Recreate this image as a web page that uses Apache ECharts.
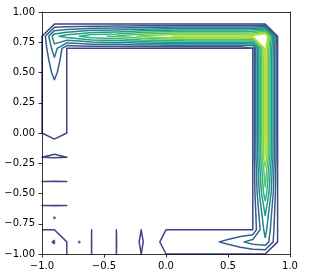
<!DOCTYPE html>
<html><head><meta charset="utf-8">
<script src="https://cdn.jsdelivr.net/npm/echarts/dist/echarts.min.js"></script>
<style>html,body{margin:0;padding:0;background:#fff}#c{width:310px;height:279px}</style>
</head><body><div id="c"></div>
<script>
// grid coordinates
const gridX = [-1.0,-0.9,-0.8,-0.7,-0.6,-0.5,-0.4,-0.3,-0.2,-0.1,0.0,0.1,0.2,0.3,0.4,0.5,0.6,0.7,0.8,0.9,1.0];
const gridY = [-1.0,-0.9,-0.8,-0.7,-0.6,-0.5,-0.4,-0.3,-0.2,-0.1,0.0,0.1,0.2,0.3,0.4,0.5,0.6,0.7,0.8,0.9,1.0];
// field values, rows listed from y = 1.0 (top) down to y = -1.0 (bottom)
const zRows = [
 [-1,-1,-1,-1,-1,-1,-1,-1,-1,-1,-1,-1,-1,-1,-1,-1,-1,-1,-1,-1,-1],
 [-1,0,0,0,0,0,0,0,0,0,0,0,0,0,0,0,0,0,0,-1,-1],
 [0,3.7,4.5,5.05,5.8,5.95,6.15,6.6,7.2,7.6,7.9,8.1,8.2,8.2,8.2,8.2,8.2,8.4,10,0,-1],
 [0,2.6,0,0,0,0,0,0,0,0,0,0,0,0,0,0,0,0,8.5,0,-1],
 [0,1.8,0,-1,-1,-1,-1,-1,-1,-1,-1,-1,-1,-1,-1,-1,-1,0,8.3,0,-1],
 [0,1.3,0,-1,-1,-1,-1,-1,-1,-1,-1,-1,-1,-1,-1,-1,-1,0,8.3,0,-1],
 [0,0.8,0,-1,-1,-1,-1,-1,-1,-1,-1,-1,-1,-1,-1,-1,-1,0,8.3,0,-1],
 [0,0.6,0,-1,-1,-1,-1,-1,-1,-1,-1,-1,-1,-1,-1,-1,-1,0,8.3,0,-1],
 [0,0.5,0,-1,-1,-1,-1,-1,-1,-1,-1,-1,-1,-1,-1,-1,-1,0,8.3,0,-1],
 [0,0.45,0,-1,-1,-1,-1,-1,-1,-1,-1,-1,-1,-1,-1,-1,-1,0,8.3,0,-1],
 [0,0.4,0,-1,-1,-1,-1,-1,-1,-1,-1,-1,-1,-1,-1,-1,-1,0,8.3,0,-1],
 [-1,-0.4,-1,-1,-1,-1,-1,-1,-1,-1,-1,-1,-1,-1,-1,-1,-1,0,8.15,0,-1],
 [0,0.133,0,-1,-1,-1,-1,-1,-1,-1,-1,-1,-1,-1,-1,-1,-1,0,8.05,0,-1],
 [-1,-2.5,-1,-1,-1,-1,-1,-1,-1,-1,-1,-1,-1,-1,-1,-1,-1,0,6.8,0,-1],
 [0,0.01,0,-1,-1,-1,-1,-1,-1,-1,-1,-1,-1,-1,-1,-1,-1,0,6.3,0,-1],
 [-1,-2,-1,-1,-1,-1,-1,-1,-1,-1,-1,-1,-1,-1,-1,-1,-1,0,5.7,0,-1],
 [0,0.01,0,-1,-1,-1,-1,-1,-1,-1,-1,-1,-1,-1,-1,-1,-1,0,4.6,0,-1],
 [-1,-2,-1,-1,-1,-1,-1,-1,-1,-1,-1,-1,-1,-1,-1,-1,-1,0,3.9,0,-1],
 [0,0,0,-1,0,-1,0,-1,0,-1,0,0,0,0,0,0,0,0,3.4,0,-1],
 [0.3,1.15,0,-2,0.01,-2,0.01,-0.5,0.1,-0.5,0.5,0.55,0.6,0.7,0.9,1.25,1.8,2.5,2.8,0,-1],
 [0.3,0.3,0,-1,0,-1,0,-1,0,-1,0,0,0,0,0,0,0,0,0,-1,-1]
];
const levels = [0,1,2,3,4,5,6,7,8];
const levelColors = ['#414487','#375a8c','#2d708e','#25858e','#1f9e89','#2eb37c','#52c569','#84d44b','#bddf26'];
// isolated tiny closed contours (too small for the grid)
const specks = [[-0.9,-0.7],[-0.7,-0.9]];
const xTicks = [-1.0,-0.5,0.0,0.5,1.0];
const yTicks = [-1.0,-0.75,-0.5,-0.25,0.0,0.25,0.5,0.75,1.0];

function zAt(i,j){ return zRows[gridY.length-1-j][i]; }

function contourSegments(L){
  const segs=[];
  for(let j=0;j<gridY.length-1;j++) for(let i=0;i<gridX.length-1;i++){
    const zbl=zAt(i,j), zbr=zAt(i+1,j), ztr=zAt(i+1,j+1), ztl=zAt(i,j+1);
    const c=(zbl>L?1:0)|(zbr>L?2:0)|(ztr>L?4:0)|(ztl>L?8:0);
    if(c===0||c===15) continue;
    const x0=gridX[i], x1=gridX[i+1], y0=gridY[j], y1=gridY[j+1];
    const E=[
      ()=>[x0+(x1-x0)*(L-zbl)/(zbr-zbl), y0],
      ()=>[x1, y0+(y1-y0)*(L-zbr)/(ztr-zbr)],
      ()=>[x0+(x1-x0)*(L-ztl)/(ztr-ztl), y1],
      ()=>[x0, y0+(y1-y0)*(L-zbl)/(ztl-zbl)]
    ];
    const ctr=(zbl+zbr+ztr+ztl)/4>L;
    let pairs;
    switch(c){
      case 1: case 14: pairs=[[3,0]]; break;
      case 2: case 13: pairs=[[0,1]]; break;
      case 3: case 12: pairs=[[3,1]]; break;
      case 4: case 11: pairs=[[1,2]]; break;
      case 6: case 9: pairs=[[0,2]]; break;
      case 7: case 8: pairs=[[3,2]]; break;
      case 5: pairs = ctr?[[0,1],[2,3]]:[[3,0],[1,2]]; break;
      case 10: pairs = ctr?[[3,0],[1,2]]:[[0,1],[2,3]]; break;
    }
    for(const [a,b] of pairs) segs.push([E[a](),E[b]()]);
  }
  return segs;
}

function chain(segs){
  const key=p=>p[0].toFixed(6)+','+p[1].toFixed(6);
  const adj=new Map();
  segs.forEach((s,k)=>{ for(const p of s){ const kk=key(p); if(!adj.has(kk)) adj.set(kk,[]); adj.get(kk).push(k);} });
  const used=new Array(segs.length).fill(false);
  const lines=[];
  for(let k=0;k<segs.length;k++){
    if(used[k]) continue;
    used[k]=true;
    const line=[segs[k][0],segs[k][1]];
    for(const fwd of [true,false]){
      while(true){
        const end = fwd? line[line.length-1] : line[0];
        const ek=key(end);
        const cand=(adj.get(ek)||[]).find(q=>!used[q]);
        if(cand===undefined) break;
        used[cand]=true;
        const s=segs[cand];
        const other = key(s[0])===ek ? s[1] : s[0];
        if(fwd) line.push(other); else line.unshift(other);
      }
    }
    lines.push(line);
  }
  return lines;
}

const series=[];
levels.forEach((L,li)=>{
  chain(contourSegments(L)).forEach(line=>{
    series.push({type:'line', data:line, symbol:'none', showSymbol:false, silent:true, animation:false,
      clip:true, z:2, lineStyle:{color:levelColors[li], width:1.5, join:'round', cap:'butt'}});
  });
});
series.push({type:'scatter', data:specks, symbol:'circle', symbolSize:3, silent:true, animation:false,
  itemStyle:{color:levelColors[0]}, z:2});

const fmt=(v,d)=> (v<0?'\u2212':'')+Math.abs(v).toFixed(d);
const labelStyle={color:'#000', fontFamily:'DejaVu Sans', fontSize:10};
const chart=echarts.init(document.getElementById('c'),null,{renderer:'canvas'});
chart.setOption({
  animation:false,
  backgroundColor:'#fff',
  grid:{left:42, top:12, width:248, height:242, containLabel:false},
  xAxis:[
    {type:'value', min:xTicks[0], max:xTicks[xTicks.length-1], interval:0.5, position:'bottom', z:5,
     axisLine:{show:true,onZero:false,lineStyle:{color:'#000',width:0.8}},
     axisTick:{show:true,length:3.5,lineStyle:{color:'#000',width:0.8}},
     axisLabel:Object.assign({margin:7, formatter:v=>fmt(v,1)},labelStyle),
     splitLine:{show:false}},
    {type:'value', min:-1, max:1, position:'top', z:5,
     axisLine:{show:true,onZero:false,lineStyle:{color:'#000',width:0.8}},
     axisTick:{show:false}, axisLabel:{show:false}, splitLine:{show:false}}
  ],
  yAxis:[
    {type:'value', min:yTicks[0], max:yTicks[yTicks.length-1], interval:0.25, position:'left', z:5,
     axisLine:{show:true,onZero:false,lineStyle:{color:'#000',width:0.8}},
     axisTick:{show:true,length:3.5,lineStyle:{color:'#000',width:0.8}},
     axisLabel:Object.assign({margin:7, formatter:v=>fmt(v,2)},labelStyle),
     splitLine:{show:false}},
    {type:'value', min:-1, max:1, position:'right', z:5,
     axisLine:{show:true,onZero:false,lineStyle:{color:'#000',width:0.8}},
     axisTick:{show:false}, axisLabel:{show:false}, splitLine:{show:false}}
  ],
  series:series
});
</script></body></html>
